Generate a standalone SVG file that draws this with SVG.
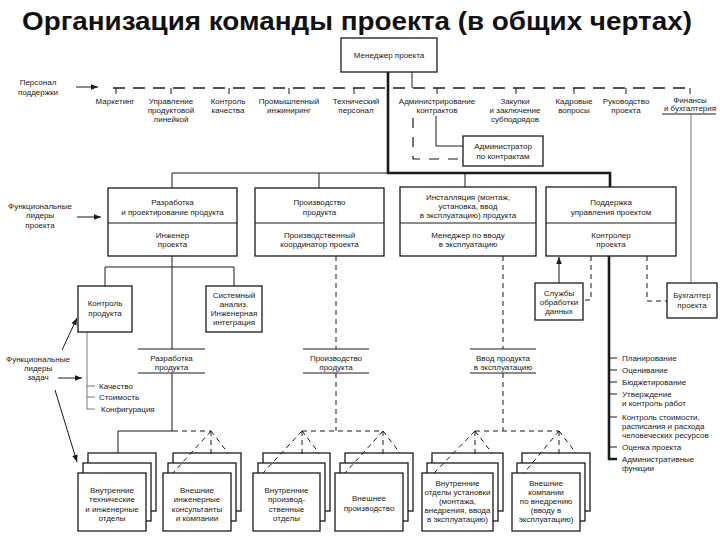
<svg xmlns="http://www.w3.org/2000/svg" width="720" height="540" viewBox="0 0 720 540">
<style>
.box{fill:#fff;stroke:#1a1a1a;stroke-width:1.3}
.t{font-family:"Liberation Sans",Arial,sans-serif;font-size:8px;fill:#1a1a1a;text-anchor:middle}
.s{text-anchor:start}
.ln{stroke:#1a1a1a;stroke-width:1;fill:none}
.thk{stroke-width:2.6}
.th{stroke-width:0.8;stroke:#555}
.d1{stroke-dasharray:12 8;stroke-width:1.3}
.d2{stroke-dasharray:5 4}
.d3{stroke-dasharray:10 9;stroke-width:1.2}
.title{font-family:"Liberation Sans",Arial,sans-serif;font-size:25px;font-weight:bold;fill:#111}
</style>
<defs>
<marker id="ah" viewBox="0 0 10 10" refX="10" refY="5" markerWidth="8" markerHeight="7" orient="auto" markerUnits="userSpaceOnUse"><path d="M0,1 L10,5 L0,9 z" fill="#1a1a1a"/></marker>
</defs>
<rect width="720" height="540" fill="#fff"/>
<text class="title" x="22" y="30" textLength="670" lengthAdjust="spacingAndGlyphs">Организация команды проекта (в общих чертах)</text>

<g id="manager"><rect class="box" x="341" y="38" width="96" height="34"/><text class="t" x="389" y="58">Менеджер проекта</text></g>

<g id="support-label"><text class="t" x="38" y="85">Персонал</text><text class="t" x="38" y="95">поддержки</text></g>
<g id="s-marketing"><text class="t" x="115" y="104">Маркетинг</text></g>
<g id="s-product-line"><text class="t" x="171" y="104">Управление</text><text class="t" x="171" y="113">продуктовой</text><text class="t" x="171" y="122">линейкой</text></g>
<g id="s-quality"><text class="t" x="228" y="104">Контроль</text><text class="t" x="228" y="113">качества</text></g>
<g id="s-industrial"><text class="t" x="289" y="104">Промышленный</text><text class="t" x="289" y="113">инжиниринг</text></g>
<g id="s-tech"><text class="t" x="356" y="104">Технический</text><text class="t" x="356" y="113">персонал</text></g>
<g id="s-contracts"><text class="t" x="437" y="104">Администрирование</text><text class="t" x="437" y="113">контрактов</text></g>
<g id="s-purchase"><text class="t" x="515" y="104">Закупки</text><text class="t" x="515" y="113">и заключение</text><text class="t" x="515" y="122">субподрядов</text></g>
<g id="s-hr"><text class="t" x="574" y="104">Кадровые</text><text class="t" x="574" y="113">вопросы</text></g>
<g id="s-lead"><text class="t" x="626" y="104">Руководство</text><text class="t" x="626" y="113">проекта</text></g>
<g id="s-finance"><text class="t" x="690" y="103">Финансы</text><text class="t" x="690" y="111">и бухгалтерия</text></g>

<g id="contract-admin"><rect class="box" x="463" y="136" width="80" height="30"/><text class="t" x="503" y="149">Администратор</text><text class="t" x="503" y="159">по контрактам</text></g>

<g id="func-leads-project"><text class="t" x="40" y="209">Функциональные</text><text class="t" x="40" y="218">лидеры</text><text class="t" x="40" y="228">проекта</text></g>

<g id="b-dev"><rect class="box" x="108" y="188" width="129" height="68"/><line class="ln" x1="108" y1="223" x2="237" y2="223"/>
<text class="t" x="172.5" y="205">Разработка</text><text class="t" x="172.5" y="215">и проектирование продукта</text><text class="t" x="172.5" y="238">Инженер</text><text class="t" x="172.5" y="247">проекта</text></g>
<g id="b-prod"><rect class="box" x="255" y="188" width="129" height="68"/><line class="ln" x1="255" y1="223" x2="384" y2="223"/>
<text class="t" x="319.5" y="205">Производство</text><text class="t" x="319.5" y="215">продукта</text><text class="t" x="319.5" y="238">Производственный</text><text class="t" x="319.5" y="247">координатор проекта</text></g>
<g id="b-install"><rect class="box" x="400" y="187" width="136" height="69"/><line class="ln" x1="400" y1="223" x2="536" y2="223"/>
<text class="t" x="468" y="200">Инсталляция (монтаж,</text><text class="t" x="468" y="209">установка, ввод</text><text class="t" x="468" y="218">в эксплуатацию) продукта</text><text class="t" x="468" y="238">Менеджер по вводу</text><text class="t" x="468" y="247">в эксплуатацию</text></g>
<g id="b-support"><rect class="box" x="546" y="187" width="130" height="69"/><line class="ln" x1="546" y1="223" x2="676" y2="223"/>
<text class="t" x="611" y="205">Поддержка</text><text class="t" x="611" y="215">управления проектом</text><text class="t" x="611" y="238">Контролер</text><text class="t" x="611" y="247">проекта</text></g>

<g id="product-control"><rect class="box" x="78" y="286" width="54" height="46"/><text class="t" x="105" y="306">Контроль</text><text class="t" x="105" y="316">продукта</text></g>
<g id="system-analysis"><rect class="box" x="206" y="286" width="56" height="46"/><text class="t" x="234" y="298">Системный</text><text class="t" x="234" y="307">анализ.</text><text class="t" x="234" y="316">Инженерная</text><text class="t" x="234" y="325">интеграция</text></g>

<g id="data-services"><rect class="box" x="535" y="283" width="48" height="37"/><text class="t" x="559" y="296">Службы</text><text class="t" x="559" y="305">обработки</text><text class="t" x="559" y="314">данных</text></g>
<g id="accountant"><rect class="box" x="667" y="283" width="50" height="35"/><text class="t" x="692" y="298">Бухгалтер</text><text class="t" x="692" y="308">проекта</text></g>

<g id="lbl-dev"><line class="ln" x1="138" y1="349" x2="205" y2="349"/><text class="t" x="171.5" y="361">Разработка</text><text class="t" x="171.5" y="370">продукта</text><line class="ln" x1="138" y1="373" x2="205" y2="373"/></g>
<g id="lbl-prod"><line class="ln" x1="303" y1="349" x2="369" y2="349"/><text class="t" x="336" y="361">Производство</text><text class="t" x="336" y="370">продукта</text><line class="ln" x1="303" y1="373" x2="369" y2="373"/></g>
<g id="lbl-install"><line class="ln" x1="470" y1="349" x2="536" y2="349"/><text class="t" x="503" y="361">Ввод продукта</text><text class="t" x="503" y="370">в эксплуатацию</text><line class="ln" x1="470" y1="373" x2="536" y2="373"/></g>

<g id="func-leads-tasks"><text class="t" x="38" y="362">Функциональные</text><text class="t" x="38" y="371">лидеры</text><text class="t" x="38" y="380">задач</text></g>
<g id="task-list"><text class="t s" x="99" y="389">Качество</text><text class="t s" x="99" y="400">Стоимость</text><text class="t s" x="101" y="412">Конфигурация</text></g>

<g id="support-functions"><text class="t s" x="622" y="361">Планирование</text><text class="t s" x="622" y="373">Оценивание</text><text class="t s" x="622" y="385">Бюджетирование</text><text class="t s" x="622" y="397">Утверждение</text><text class="t s" x="622" y="406">и контроль работ</text><text class="t s" x="622" y="420">Контроль стоимости,</text><text class="t s" x="622" y="429">расписания и расхода</text><text class="t s" x="622" y="438">человеческих ресурсов</text><text class="t s" x="622" y="450">Оценка проекта</text><text class="t s" x="622" y="462">Административные</text><text class="t s" x="622" y="471">функции</text></g>

<g id="stack1"><rect class="box" x="88" y="453" width="68" height="58"/><rect class="box" x="83" y="463" width="68" height="58"/><rect class="box" x="78" y="473" width="68" height="58"/>
<text class="t" x="112" y="493">Внутренние</text><text class="t" x="112" y="502">технические</text><text class="t" x="112" y="512">и инженерные</text><text class="t" x="112" y="521">отделы</text></g>
<g id="stack2"><rect class="box" x="173" y="453" width="68" height="58"/><rect class="box" x="168" y="463" width="68" height="58"/><rect class="box" x="163" y="473" width="68" height="58"/>
<text class="t" x="197" y="493">Внешние</text><text class="t" x="197" y="502">инженерные</text><text class="t" x="197" y="512">консультанты</text><text class="t" x="197" y="521">и компании</text></g>
<g id="stack3"><rect class="box" x="263" y="453" width="67" height="58"/><rect class="box" x="258" y="463" width="67" height="58"/><rect class="box" x="253" y="473" width="67" height="58"/>
<text class="t" x="286.5" y="493">Внутренние</text><text class="t" x="286.5" y="502">производ-</text><text class="t" x="286.5" y="512">ственные</text><text class="t" x="286.5" y="521">отделы</text></g>
<g id="stack4"><rect class="box" x="345" y="453" width="68" height="58"/><rect class="box" x="340" y="463" width="68" height="58"/><rect class="box" x="335" y="473" width="68" height="58"/>
<text class="t" x="369" y="501">Внешнее</text><text class="t" x="369" y="511">производство</text></g>
<g id="stack5"><rect class="box" x="432" y="453" width="71" height="58"/><rect class="box" x="427" y="463" width="71" height="58"/><rect class="box" x="422" y="473" width="71" height="58"/>
<text class="t" x="457.5" y="486">Внутренние</text><text class="t" x="457.5" y="495">отделы установки</text><text class="t" x="457.5" y="504">(монтажа,</text><text class="t" x="457.5" y="513">внедрения, ввода</text><text class="t" x="457.5" y="522">в эксплуатацию)</text></g>
<g id="stack6"><rect class="box" x="522" y="453" width="68" height="58"/><rect class="box" x="517" y="463" width="68" height="58"/><rect class="box" x="512" y="473" width="68" height="58"/>
<text class="t" x="546" y="486">Внешние</text><text class="t" x="546" y="495">компании</text><text class="t" x="546" y="504">по внедрению</text><text class="t" x="546" y="513">(вводу в</text><text class="t" x="546" y="522">эксплуатацию)</text></g>

<g id="connectors">
<path class="ln thk" d="M388,72 V173 H610 V187"/>
<path class="ln" d="M172,188 V173 H388 M319,173 V188 M465,173 V187"/>
<path class="ln" d="M412,72 V88"/>
<path class="ln d1" d="M113,88 H692"/>
<path class="ln" d="M116,88 v6 M171,88 v6 M229,88 v6 M289,88 v6 M354,88 v6 M437,88 v6 M516,88 v6 M574,88 v6 M626,88 v6 M690,88 v6"/>
<path class="ln" d="M76,87 H98" marker-end="url(#ah)"/>
<path class="ln" d="M436,116 V146 H463"/>
<path class="ln d3" d="M413,118 V159 H458"/>
<path class="ln" d="M662,114 H716"/>
<path class="ln th" d="M691,114 V283"/>
<path class="ln d2" d="M647,256 V301 H667"/>
<path class="ln" d="M559,283 V257" marker-end="url(#ah)"/>
<path class="ln d2" d="M591,256 V300 H583"/>
<path class="ln thk" d="M609,256 V459 H617"/>
<path class="ln" d="M609,358 H617 M609,370 H617 M609,382 H617 M609,394 H617 M609,417 H617 M609,447 H617"/>
<path class="ln" d="M77,217 H101" marker-end="url(#ah)"/>
<path class="ln" d="M172,256 V349 M105,286 V267 H234 V286 M172,373 V431 M118,453 V431 H173"/>
<path class="ln th" d="M87,332 V409 M87,386 H95 M87,397 H95 M87,409 H95"/>
<path class="ln" d="M62,350 L77,318" marker-end="url(#ah)"/>
<path class="ln" d="M58,378 H82" marker-end="url(#ah)"/>
<path class="ln" d="M55,390 L77,462" marker-end="url(#ah)"/>
<path class="ln d2" d="M173,431 H211"/>
<path class="ln d2" d="M336,256 V349 M336,373 V431 M302,431 H383"/>
<path class="ln d2" d="M503,256 V349 M503,373 V431 M475,431 H559"/>
<path class="ln d2" d="M211,431 L173,473 M211,431 V457 M211,431 L228,453"/>
<path class="ln d2" d="M302,431 L263,473 M302,431 V457 M302,431 L319,453"/>
<path class="ln d2" d="M383,431 L345,473 M383,431 V457 M383,431 L400,453"/>
<path class="ln d2" d="M475,431 L434,473 M475,431 V457 M475,431 L492,453"/>
<path class="ln d2" d="M559,431 L524,473 M559,431 V457 M559,431 L576,453"/>
</g>
</svg>
